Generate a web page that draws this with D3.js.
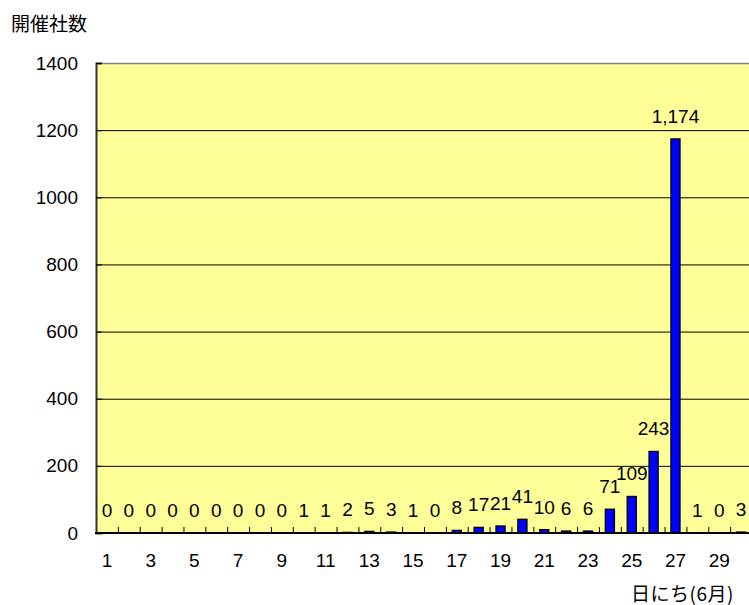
<!DOCTYPE html>
<html>
<head>
<meta charset="utf-8">
<script src="https://cdn.jsdelivr.net/npm/d3@7"></script>
<style>
  html, body { margin: 0; padding: 0; background: #ffffff; }
  svg { display: block; }
  text { font-family: "Liberation Sans", Arial, "Noto Sans CJK JP", sans-serif; fill: #000; }
  .jp { font-family: "Noto Sans CJK JP", "Liberation Sans", sans-serif; }
</style>
</head>
<body>
<svg id="chart" width="749" height="605"></svg>
<script>
// Days of June and the number of companies holding meetings on each day
const days = d3.range(1, 31);
const counts = [0, 0, 0, 0, 0, 0, 0, 0, 0, 1, 1, 2, 5, 3, 1, 0, 8, 17, 21, 41, 10, 6, 6, 71, 109, 243, 1174, 1, 0, 3];
const yTicks = [0, 200, 400, 600, 800, 1000, 1200, 1400];
const xTickLabels = days.filter(d => d % 2 === 1);
const yTitle = "開催社数";
const xTitle = "日にち(6月)";

const svg = d3.select("#chart");
const plotLeft = 96, plotRight = 752, plotTop = 63, plotBottom = 533;

const x = d3.scaleBand().domain(days).range([plotLeft, plotRight]).paddingInner(0.58).paddingOuter(0.29);
const xCat = d3.scaleBand().domain(days).range([plotLeft, plotRight]).padding(0);
const y = d3.scaleLinear().domain([0, 1400]).range([plotBottom, plotTop]);

// plot area
svg.append("rect")
  .attr("x", plotLeft).attr("y", plotTop)
  .attr("width", plotRight - plotLeft).attr("height", plotBottom - plotTop)
  .attr("fill", "#FFFF99");

// gridlines
svg.append("g").selectAll("line")
  .data(yTicks.filter(v => v > 0 && v < 1400))
  .join("line")
  .attr("x1", plotLeft).attr("x2", plotRight)
  .attr("y1", d => y(d) + 0.5).attr("y2", d => y(d) + 0.5)
  .attr("stroke", "#000").attr("stroke-width", 1);

// top border
svg.append("line")
  .attr("x1", plotLeft).attr("x2", plotRight)
  .attr("y1", plotTop + 0.5).attr("y2", plotTop + 0.5)
  .attr("stroke", "#808080").attr("stroke-width", 1.5);

// bars
svg.append("g").selectAll("rect")
  .data(days.map((d, i) => ({ day: d, v: counts[i] })).filter(d => d.v > 0))
  .join("rect")
  .attr("x", d => x(d.day))
  .attr("y", d => y(d.v))
  .attr("width", x.bandwidth())
  .attr("height", d => y(0) - y(d.v))
  .attr("fill", "#0000FF")
  .attr("stroke", "#000")
  .attr("stroke-width", 1.2);

// y axis
const yAxis = d3.axisLeft(y).tickValues(yTicks).tickFormat(d3.format("d")).tickSize(-6).tickPadding(18);
const gy = svg.append("g").attr("transform", `translate(${plotLeft},0)`).call(yAxis);
gy.select(".domain").attr("stroke", "#333").attr("stroke-width", 2);
gy.selectAll(".tick line").attr("stroke", "#000");
gy.selectAll("text").attr("font-size", 19).attr("font-family", "Liberation Sans, Arial, sans-serif").attr("fill", "#000");

// x axis: inward ticks at category boundaries, labels on odd days
const gx = svg.append("g").attr("transform", `translate(0,${plotBottom})`);
gx.selectAll("line.tk")
  .data(days.slice(1))
  .join("line")
  .attr("class", "tk")
  .attr("x1", d => xCat(d) + 0.5).attr("x2", d => xCat(d) + 0.5)
  .attr("y1", 0).attr("y2", -6)
  .attr("stroke", "#000").attr("stroke-width", 1);
gx.append("line")
  .attr("x1", plotLeft - 1).attr("x2", plotRight)
  .attr("y1", 0).attr("y2", 0)
  .attr("stroke", "#000").attr("stroke-width", 2);
gx.selectAll("text")
  .data(xTickLabels)
  .join("text")
  .attr("x", d => xCat(d) + xCat.bandwidth() / 2)
  .attr("y", 34)
  .attr("text-anchor", "middle")
  .attr("font-size", 19)
  .text(d => d);

// value labels
svg.append("g").selectAll("text")
  .data(days.map((d, i) => ({ day: d, v: counts[i] })))
  .join("text")
  .attr("x", d => x(d.day) + x.bandwidth() / 2)
  .attr("y", d => y(d.v) - 16)
  .attr("text-anchor", "middle")
  .attr("font-size", 19)
  .text(d => d3.format(",")(d.v));

// titles
svg.append("text").attr("class", "jp")
  .attr("x", 11).attr("y", 31)
  .attr("font-size", 19)
  .text(yTitle);

svg.append("text").attr("class", "jp")
  .attr("x", 734).attr("y", 601)
  .attr("text-anchor", "end")
  .attr("font-size", 19)
  .attr("letter-spacing", 0.5)
  .text(xTitle);
</script>
</body>
</html>
